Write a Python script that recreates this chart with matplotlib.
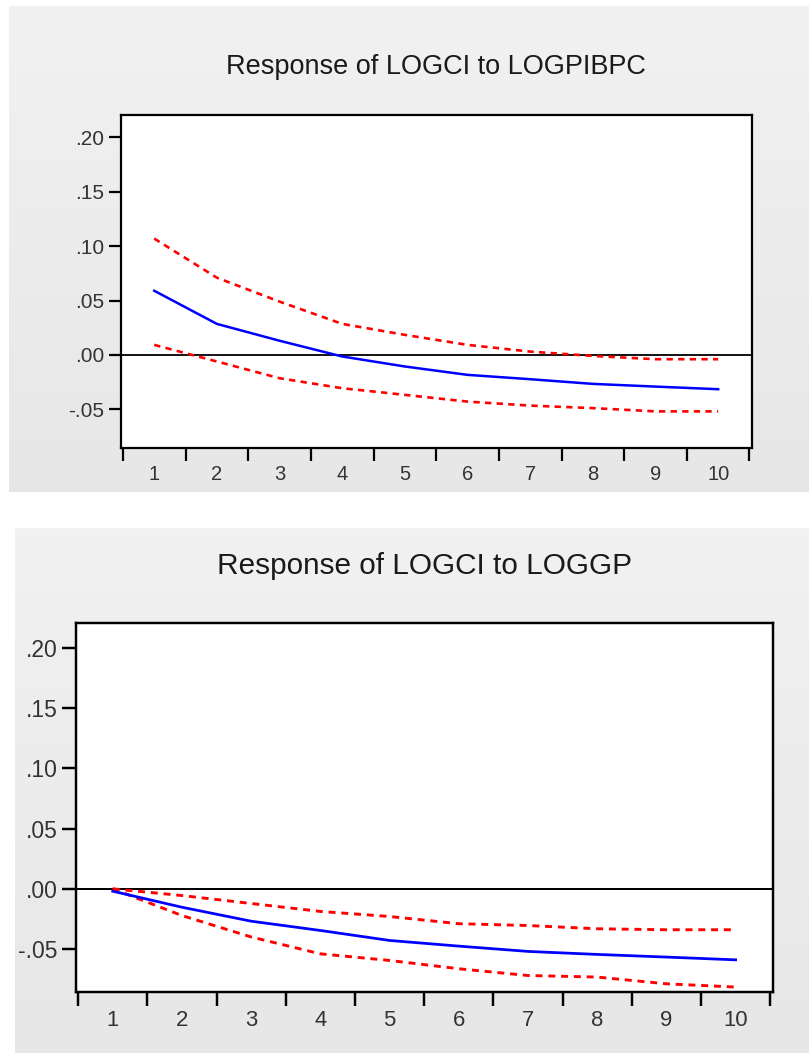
import numpy as np
import matplotlib
matplotlib.use("Agg")
import matplotlib.pyplot as plt

plt.rcParams["font.family"] = ["Liberation Sans", "DejaVu Sans"]

# impulse responses, periods 1..10
periods = list(range(1, 11))

pib_resp = [0.059, 0.0285, 0.013, -0.0015, -0.0107, -0.0184, -0.0224, -0.0267, -0.0292, -0.0316]
pib_upper = [0.107, 0.071, 0.049, 0.0285, 0.0184, 0.0092, 0.003, -0.001, -0.004, -0.004]
pib_lower = [0.0092, -0.0061, -0.0215, -0.0307, -0.0368, -0.043, -0.0467, -0.049, -0.052, -0.052]

gp_resp = [-0.002, -0.0153, -0.0269, -0.0346, -0.0429, -0.0476, -0.052, -0.0545, -0.0567, -0.059]
gp_upper = [0.0, -0.0056, -0.0122, -0.0188, -0.023, -0.029, -0.0305, -0.0332, -0.034, -0.034]
gp_lower = [0.0, -0.0222, -0.040, -0.054, -0.0595, -0.0664, -0.072, -0.0733, -0.0789, -0.0816]

y_ticks = [-0.05, 0.00, 0.05, 0.10, 0.15, 0.20]
y_labels = ["-.05", ".00", ".05", ".10", ".15", ".20"]

W, H = 809, 1053
fig = plt.figure(figsize=(W / 100, H / 100), dpi=100)
fig.patch.set_facecolor("white")


def px_rect(x0, y0, x1, y1):
    # pixel box (top-left origin) -> figure fraction rect
    return [x0 / W, 1 - y1 / H, (x1 - x0) / W, (y1 - y0) / H]


def panel_bg(x0, y0, x1, y1):
    bg = fig.add_axes(px_rect(x0, y0, x1, y1), zorder=0)
    grad = np.linspace(0.942, 0.902, 64).reshape(-1, 1)
    bg.imshow(grad, cmap="gray", vmin=0, vmax=1, aspect="auto",
              extent=[0, 1, 0, 1])
    bg.set_axis_off()


def draw_panel(rect, title, title_xy, resp, upper, lower, s):
    ax = fig.add_axes(rect, zorder=2)
    ax.set_facecolor("white")
    ax.axhline(0, color="black", lw=1.3 * s, zorder=1)
    ax.plot(periods, upper, color="#ff0000", lw=1.9 * s, dashes=(2.4, 2.0), zorder=2)
    ax.plot(periods, lower, color="#ff0000", lw=1.9 * s, dashes=(2.4, 2.0), zorder=2)
    ax.plot(periods, resp, color="#0000ff", lw=1.8 * s, zorder=3)

    ax.set_xlim(0.47, 10.54)
    ax.set_ylim(-0.0857, 0.2207)

    ax.set_xticks(np.arange(0.5, 11), labels=[])
    ax.set_xticks(periods, labels=[str(p) for p in periods], minor=True)
    ax.set_yticks(y_ticks, labels=y_labels)

    ax.tick_params(axis="both", which="major", direction="out",
                   length=9 * s, width=1.6 * s, color="black")
    ax.tick_params(axis="x", which="minor", length=0, pad=12 * s,
                   labelsize=14.5 * s, labelcolor="#333333")
    ax.tick_params(axis="y", which="major", pad=3 * s,
                   labelsize=15 * s, labelcolor="#333333")
    for sp in ax.spines.values():
        sp.set_linewidth(1.6 * s)
        sp.set_color("black")

    fig.text(title_xy[0] / W, 1 - title_xy[1] / H, title, ha="center",
             va="baseline", fontsize=19.5 * s, color="#1a1a1a", zorder=3)
    return ax


panel_bg(9, 6, 809, 492)
panel_bg(15, 528, 809, 1053)

draw_panel(px_rect(121, 115, 752, 448), "Response of LOGCI to LOGPIBPC",
           (436, 73.5), pib_resp, pib_upper, pib_lower, 1.0)
draw_panel(px_rect(76, 623, 773, 992), "Response of LOGCI to LOGGP",
           (425, 574.5), gp_resp, gp_upper, gp_lower, 1.1)

fig.savefig("out.png", dpi=100, facecolor=fig.get_facecolor())
